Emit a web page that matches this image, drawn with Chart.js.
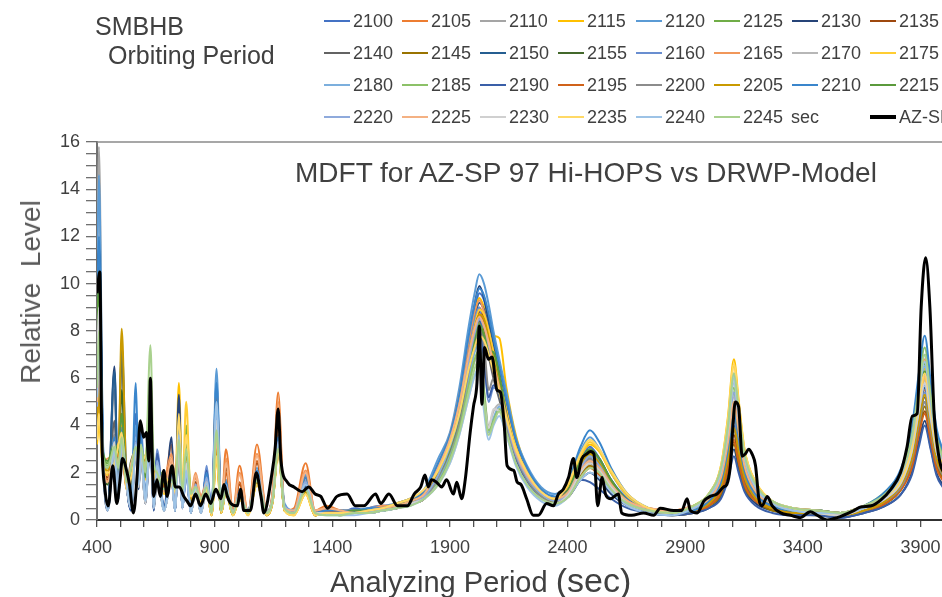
<!DOCTYPE html>
<html>
<head>
<meta charset="utf-8">
<script src="https://cdn.jsdelivr.net/npm/chart.js@4.4.1/dist/chart.umd.min.js"></script>
<style>
  html, body { margin: 0; padding: 0; background: #fff; overflow: hidden; }
  #wrap { position: relative; width: 942px; height: 597px; overflow: hidden;
          font-family: "Liberation Sans", Arial, sans-serif; color: #404040; }
  #chart { position: absolute; left: 0; top: 0; }
  .txt { position: absolute; white-space: pre; line-height: 1; }
  .leg { position: absolute; height: 20px; display: flex; align-items: center;
         font-size: 18px; line-height: 20px; white-space: nowrap; color: #404040; }
  .leg i { display: inline-block; width: 26px; margin-right: 3px; }
</style>
</head>
<body>
<div id="wrap">
  <canvas id="chart" width="944" height="597"></canvas>
  <div class="txt" style="left:95px; top:14px; font-size:25px;">SMBHB</div>
  <div class="txt" style="left:108px; top:43px; font-size:25px;">Orbiting Period</div>
  <div class="txt" style="left:295px; top:159px; font-size:28px;">MDFT for AZ-SP 97 Hi-HOPS vs DRWP-Model</div>
  <div class="txt" style="left:31px; top:292px; font-size:28px; color:#595959; transform:translate(-50%,-50%) rotate(-90deg);">Relative  Level</div>
  <div class="txt" style="left:330px; top:563px; font-size:29px;">Analyzing Period <span style="font-size:34px;">(sec)</span></div>
  <div id="legend"></div>
</div>
<script>
// analyzing period grid shared by the model curves (sec)
const periods = [400,408,425,445,474,490,505,525,545,565,577,587,605,627,641,655,685,717,732,748,763,779,799,819,842,866,887,908,928,948,978,1006,1042,1080,1122,1147,1170,1197,1237,1287,1327,
  1375,1434,1494,1554,1614,1673,1732,1791,
  1850,1900,1940,1980,2005,2025,2045,2065,2085,2110,2140,2180,2228,2287,2347,
  2405,2455,2495,2535,2585,2655,2745,2845,
  2935,3000,3052,3082,3107,3127,3152,3200,3270,3360,
  3460,3560,3660,3750,3818,3863,3893,3918,3943,3968,4000];

const seriesLabels = ['2100','2105','2110','2115','2120','2125','2130','2135',
  '2140','2145','2150','2155','2160','2165','2170','2175',
  '2180','2185','2190','2195','2200','2205','2210','2215',
  '2220','2225','2230','2235','2240','2245'];

const seriesColors = ['#4472C4','#ED7D31','#A5A5A5','#FFC000','#5B9BD5','#70AD47','#264478','#9E480E',
  '#636363','#997300','#255E91','#43682B','#698ED0','#F1975A','#B7B7B7','#FFCD33',
  '#7CAFDD','#8CC168','#3A5FA8','#D0621A','#8C8C8C','#C99A00','#3A86CC','#5B9A3C',
  '#8FAADC','#F4B183','#D0D0D0','#FFD966','#9DC3E6','#A9D18E'];

// relative level of each model curve
const lv2100 = [5.4,7.7,3.0,0.4,3.2,0.9,3.8,1.6,0.5,4.5,1.8,3.4,0.9,3.6,0.6,2.4,0.5,1.9,0.4,3.2,0.5,2.2,0.3,1.4,0.4,2.0,0.3,5.9,0.5,1.6,0.3,1.1,0.4,2.0,0.3,1.0,3.4,0.6,0.4,1.6,0.3,
  0.4,0.3,0.5,0.4,0.5,0.6,0.8,1.0,
  2.1,3.4,5.0,7.5,8.8,9.6,9.3,8.4,7.4,6.2,4.8,3.2,2.0,1.2,0.9,
  1.4,2.5,3.1,2.6,1.7,0.9,0.4,0.3,
  0.4,0.7,1.4,2.6,4.0,3.0,1.8,1.0,0.5,0.3,
  0.3,0.2,0.4,0.8,1.4,2.5,4.0,5.0,3.8,2.5,1.8];
const lv2105 = [4.5,6.3,2.4,2.0,2.6,2.4,3.2,1.3,1.8,3.0,2.6,2.8,2.2,3.4,1.8,2.0,1.5,3.2,1.2,2.6,1.4,2.0,1.0,1.8,0.9,1.6,0.3,3.5,0.4,3.0,0.4,2.3,0.3,3.2,0.3,1.3,5.4,0.4,0.5,2.4,0.4,
  0.6,0.4,0.3,0.5,0.6,0.5,0.7,1.1,
  2.4,3.6,5.2,7.4,8.4,9.0,8.6,7.8,6.8,5.8,4.5,3.0,1.9,1.1,0.8,
  1.1,2.1,2.6,2.3,1.5,0.8,0.5,0.4,
  0.6,0.8,1.3,2.3,3.4,2.6,1.6,0.9,0.6,0.4,
  0.4,0.3,0.6,1.0,1.7,2.9,4.5,5.5,4.2,2.8,2.0];
const lv2110 = [10.5,15.8,3.2,0.5,5.5,1.0,4.5,1.8,0.6,3.3,1.6,3.0,0.8,3.8,0.5,2.1,0.4,1.7,0.5,3.5,0.6,2.4,0.3,1.3,0.3,1.4,0.4,4.8,0.4,1.4,0.3,1.2,0.3,1.8,0.4,0.9,3.0,0.5,0.3,1.3,0.3,
  0.3,0.4,0.3,0.3,0.4,0.6,0.7,0.9,
  1.8,2.9,4.3,6.4,7.6,8.2,7.0,5.2,5.6,5.4,4.1,2.7,1.7,1.0,0.7,
  1.2,2.4,2.9,2.5,1.6,0.8,0.4,0.3,
  0.5,0.8,1.7,3.2,5.0,3.8,2.3,1.2,0.6,0.4,
  0.3,0.2,0.5,0.9,1.6,3.0,4.8,6.0,4.5,3.0,2.1];
const lv2115 = [3.2,4.0,2.2,1.6,2.4,2.8,4.0,1.4,1.4,2.8,3.0,2.6,1.8,3.2,2.4,1.8,1.2,1.5,1.0,5.8,1.3,2.8,0.9,1.2,0.7,1.3,0.2,2.6,0.3,1.2,0.2,0.9,0.2,1.5,0.2,0.8,2.8,0.4,0.2,1.1,0.2,
  0.3,0.2,0.3,0.4,0.5,0.7,0.9,1.2,
  2.3,3.6,5.1,7.4,8.8,9.4,9.0,8.3,7.8,7.7,5.6,3.6,2.2,1.3,0.9,
  1.5,2.7,3.2,2.9,2.0,1.0,0.5,0.3,
  0.6,1.1,2.3,4.4,6.8,5.1,3.0,1.6,0.8,0.5,
  0.3,0.3,0.5,1.0,1.8,3.2,5.1,6.4,4.8,3.2,2.3];
const lv2120 = [9.8,14.6,3.5,0.6,3.6,1.1,3.9,1.9,0.7,4.0,1.7,3.8,1.0,4.0,0.6,2.6,0.5,2.0,0.4,4.4,0.6,2.3,0.3,1.6,0.4,1.9,0.3,6.4,0.6,1.7,0.3,1.3,0.4,2.2,0.3,1.1,3.6,0.7,0.4,1.9,0.3,
  0.5,0.4,0.4,0.5,0.6,0.7,0.9,1.3,
  2.6,3.7,5.6,8.2,9.6,10.4,10.0,9.1,8.0,6.8,5.4,3.5,2.3,1.4,1.1,
  1.6,2.9,3.5,3.0,2.0,1.0,0.5,0.4,
  0.6,1.1,2.2,4.0,6.2,4.7,2.8,1.5,0.8,0.5,
  0.4,0.3,0.6,1.1,2.0,3.5,5.6,7.0,5.3,3.5,2.5];
const lv2125 = [7.5,10.8,2.8,2.4,2.9,2.0,3.6,1.5,2.2,3.1,2.2,3.0,2.6,4.5,1.5,2.0,1.8,1.6,1.3,3.4,1.1,4.0,1.2,1.3,0.8,1.5,0.3,4.2,0.4,1.3,0.2,1.0,0.3,1.7,0.3,0.9,3.1,0.5,0.3,1.3,0.3,
  0.3,0.3,0.4,0.4,0.5,0.6,0.8,1.0,
  1.9,3.0,4.5,6.7,7.9,8.6,8.0,7.1,7.0,6.0,4.4,2.9,1.8,1.1,0.8,
  1.3,2.3,2.8,2.4,1.6,0.8,0.4,0.3,
  0.6,1.0,1.9,3.5,5.4,4.1,2.5,1.3,0.7,0.5,
  0.4,0.3,0.6,1.1,1.9,3.3,5.3,6.6,5.0,3.3,2.4];
const lv2130 = [8.0,11.7,3.0,0.4,6.5,1.0,3.4,1.5,0.4,3.0,1.3,2.9,0.7,3.3,0.4,1.9,0.5,3.5,0.4,5.3,0.5,2.1,0.3,1.4,0.3,1.7,0.3,3.1,0.3,1.3,0.3,1.0,0.3,1.6,0.2,0.9,2.9,0.5,0.3,1.2,0.2,
  0.3,0.3,0.3,0.4,0.4,0.6,0.7,1.0,
  2.2,3.4,5.0,7.6,9.1,9.9,9.4,8.4,7.4,6.2,4.8,3.2,2.0,1.2,0.8,
  1.0,1.7,2.0,1.7,1.1,0.6,0.3,0.2,
  0.3,0.5,1.0,1.9,3.0,2.2,1.3,0.7,0.4,0.3,
  0.2,0.1,0.3,0.6,1.1,2.0,3.3,4.2,3.1,2.0,1.4];
const lv2135 = [4.4,6.0,2.6,1.8,3.0,3.0,3.3,1.4,1.6,2.9,2.8,2.7,2.0,3.4,2.0,2.1,1.4,2.3,1.1,3.0,1.5,2.2,1.1,1.6,1.0,1.5,0.3,3.4,0.4,2.2,0.3,1.5,0.3,2.4,0.3,1.1,4.0,0.5,0.4,1.8,0.3,
  0.4,0.3,0.3,0.4,0.5,0.6,0.8,1.0,
  2.0,3.2,4.6,6.9,8.1,8.8,8.5,7.7,6.8,5.7,4.4,2.9,1.9,1.1,0.8,
  1.1,2.0,2.5,2.2,1.4,0.7,0.4,0.3,
  0.4,0.7,1.3,2.4,3.6,2.7,1.6,0.9,0.5,0.3,
  0.3,0.2,0.4,0.7,1.3,2.3,3.7,4.6,3.5,2.3,1.7];
const lv2140 = [6.2,9.0,2.9,0.5,4.2,0.9,3.7,1.6,0.5,3.2,1.5,2.9,0.8,3.6,0.5,2.0,0.4,1.8,0.4,3.2,0.5,2.3,0.3,1.4,0.3,1.5,0.3,4.0,0.4,1.4,0.3,1.1,0.3,1.8,0.3,0.9,3.2,0.5,0.3,1.4,0.3,
  0.3,0.3,0.4,0.4,0.5,0.6,0.7,0.9,
  1.8,2.8,4.1,6.1,7.2,7.8,7.6,6.9,6.0,5.1,3.9,2.6,1.6,1.0,0.7,
  1.1,2.0,2.4,2.0,1.3,0.7,0.4,0.3,
  0.4,0.7,1.3,2.5,3.8,2.9,1.7,0.9,0.5,0.3,
  0.3,0.2,0.4,0.8,1.5,2.6,4.2,5.2,3.9,2.6,1.9];
const lv2145 = [4.0,5.5,2.3,2.2,2.5,2.6,7.0,1.7,2.0,2.8,2.4,2.6,2.4,3.2,1.7,1.8,1.6,1.6,1.2,2.9,1.3,2.1,0.8,1.3,0.8,1.4,0.2,3.0,0.3,1.3,0.2,1.0,0.3,1.6,0.2,0.8,3.0,0.4,0.3,1.2,0.2,
  0.3,0.2,0.3,0.3,0.4,0.5,0.7,0.9,
  1.9,3.0,4.4,6.6,7.8,8.4,8.1,7.4,6.5,5.5,4.2,2.8,1.8,1.1,0.7,
  1.0,1.9,2.3,2.0,1.3,0.7,0.4,0.2,
  0.3,0.6,1.1,2.1,3.2,2.4,1.4,0.8,0.4,0.3,
  0.2,0.2,0.4,0.7,1.3,2.4,3.8,4.8,3.6,2.4,1.7];
const lv2150 = [8.2,11.5,3.1,0.5,6.3,1.1,7.4,1.8,0.5,3.4,1.5,3.2,0.8,3.7,0.5,2.3,0.5,2.0,0.4,3.6,0.6,2.4,0.3,1.5,0.3,1.8,0.3,4.5,0.4,1.5,0.3,1.2,0.3,1.9,0.3,1.0,3.3,0.5,0.4,1.5,0.3,
  0.4,0.3,0.4,0.4,0.5,0.6,0.8,1.1,
  2.1,3.3,4.9,7.2,8.5,9.2,8.9,8.2,7.3,6.1,4.7,3.1,2.0,1.2,0.9,
  1.3,2.5,3.0,2.6,1.7,0.8,0.4,0.3,
  0.4,0.8,1.5,2.8,4.4,3.3,2.0,1.1,0.6,0.4,
  0.3,0.2,0.4,0.8,1.6,2.8,4.5,5.6,4.2,2.8,2.0];
const lv2155 = [7.0,10.0,2.7,1.5,3.1,2.2,5.5,1.5,2.5,3.0,2.7,2.8,1.9,3.9,2.2,2.0,1.3,1.7,1.2,3.3,1.4,3.0,1.0,1.4,0.9,1.4,0.3,5.2,0.4,1.3,0.2,1.1,0.3,1.7,0.3,0.9,3.1,0.4,0.3,1.3,0.2,
  0.3,0.3,0.3,0.4,0.5,0.6,0.8,1.0,
  1.8,2.9,4.2,6.2,7.3,8.0,7.4,7.0,7.2,6.2,4.4,2.8,1.8,1.1,0.8,
  1.2,2.2,2.7,2.3,1.5,0.8,0.4,0.3,
  0.5,0.8,1.6,3.0,4.6,3.5,2.1,1.1,0.6,0.4,
  0.4,0.3,0.5,1.0,1.8,3.1,5.0,6.2,4.7,3.1,2.2];
const lv2160 = [5.0,7.0,2.6,0.4,2.8,0.8,3.4,1.5,0.5,3.6,1.6,4.0,0.9,3.3,0.5,3.0,0.5,1.8,0.4,3.1,0.5,2.0,0.3,1.5,0.3,2.3,0.3,4.3,0.5,1.5,0.3,1.2,0.3,1.9,0.3,1.0,3.3,0.6,0.4,1.7,0.3,
  0.4,0.4,0.3,0.5,0.6,0.6,0.8,1.2,
  2.2,3.4,5.0,7.2,8.5,9.0,7.0,5.0,5.6,5.5,4.4,3.0,1.9,1.2,0.9,
  1.3,2.4,2.9,2.5,1.6,0.8,0.4,0.3,
  0.4,0.7,1.5,2.7,4.2,3.2,1.9,1.0,0.5,0.3,
  0.3,0.2,0.4,0.8,1.5,2.7,4.3,5.4,4.1,2.7,1.9];
const lv2165 = [4.6,6.5,2.5,2.6,2.7,2.5,3.3,1.4,1.7,2.9,2.3,2.7,2.6,3.5,1.9,2.1,1.7,2.8,1.3,2.8,1.2,2.1,1.1,2.0,1.0,1.6,0.3,3.3,0.4,2.6,0.3,2.0,0.3,2.8,0.3,1.2,5.0,0.5,0.4,2.1,0.4,
  0.5,0.4,0.4,0.4,0.6,0.6,0.8,1.1,
  2.3,3.6,5.3,7.6,8.8,9.3,8.8,8.0,7.1,6.0,4.7,3.1,2.0,1.2,0.9,
  1.2,2.1,2.6,2.3,1.6,0.8,0.5,0.4,
  0.6,0.9,1.7,3.1,4.8,3.6,2.2,1.2,0.7,0.5,
  0.4,0.3,0.6,1.1,2.0,3.4,5.4,6.8,5.1,3.4,2.5];
const lv2170 = [5.6,8.0,2.7,0.4,3.4,0.9,3.6,1.6,0.5,3.1,1.4,2.9,0.8,3.7,0.5,2.0,0.4,1.7,0.4,3.3,0.5,2.4,0.3,1.3,0.3,1.4,0.3,4.5,0.4,1.4,0.3,1.1,0.3,1.8,0.3,0.9,3.1,0.5,0.3,1.3,0.3,
  0.3,0.3,0.3,0.4,0.5,0.6,0.7,1.0,
  1.7,2.7,4.0,5.7,6.7,7.0,5.4,4.0,4.6,4.9,3.8,2.5,1.6,1.0,0.7,
  1.1,2.0,2.5,2.2,1.4,0.7,0.4,0.3,
  0.5,0.9,1.8,3.4,5.2,3.9,2.3,1.2,0.7,0.4,
  0.3,0.2,0.5,0.9,1.7,3.0,4.7,5.9,4.4,3.0,2.1];
const lv2175 = [3.7,5.0,2.3,1.9,2.5,3.2,3.5,1.3,2.1,2.7,2.9,2.5,1.7,3.3,2.3,1.7,1.1,1.5,1.0,3.8,1.2,5.0,0.9,1.2,0.7,1.3,0.2,2.8,0.3,1.2,0.2,0.9,0.2,1.5,0.2,0.8,2.9,0.4,0.2,1.1,0.2,
  0.3,0.3,0.3,0.4,0.5,0.7,0.9,1.2,
  2.2,3.4,4.9,7.0,8.2,8.9,8.7,8.0,7.1,6.0,4.6,3.1,2.0,1.2,0.9,
  1.5,2.7,3.3,2.9,2.0,1.0,0.5,0.3,
  0.6,1.1,2.2,4.2,6.5,4.9,2.9,1.6,0.8,0.5,
  0.3,0.2,0.5,0.9,1.7,3.0,4.8,6.0,4.5,3.0,2.2];
const lv2180 = [6.0,8.5,2.9,0.5,3.2,0.9,3.5,1.7,0.6,3.5,1.6,3.4,0.9,3.8,0.5,2.4,0.4,1.8,0.4,4.1,0.6,2.2,0.3,1.5,0.3,1.7,0.3,5.6,0.5,1.5,0.3,1.2,0.3,2.0,0.3,1.0,3.4,0.6,0.4,1.7,0.3,
  0.4,0.3,0.3,0.3,0.4,0.5,0.7,1.0,
  1.7,2.8,4.1,6.0,7.1,7.5,5.2,3.7,4.3,4.8,3.9,2.6,1.6,1.0,0.7,
  1.2,2.1,2.6,2.3,1.5,0.7,0.4,0.3,
  0.5,1.0,2.0,3.8,5.8,4.4,2.6,1.4,0.7,0.4,
  0.3,0.3,0.5,1.0,1.8,3.3,5.2,6.5,4.9,3.3,2.3];
const lv2185 = [6.6,9.5,2.8,2.3,3.3,2.1,3.8,1.6,1.9,3.2,2.5,3.1,2.3,6.0,1.6,2.1,1.9,1.7,1.4,3.5,1.3,3.4,1.2,1.4,0.8,1.4,0.3,4.0,0.4,1.3,0.3,1.0,0.3,1.7,0.3,0.9,3.1,0.5,0.3,1.3,0.3,
  0.3,0.2,0.3,0.4,0.4,0.5,0.7,1.0,
  1.6,2.6,3.9,5.7,6.8,7.2,5.5,3.8,4.2,4.7,3.8,2.5,1.6,1.0,0.7,
  1.2,2.3,2.8,2.4,1.6,0.8,0.4,0.3,
  0.6,1.0,2.0,3.7,5.6,4.2,2.5,1.4,0.7,0.5,
  0.4,0.3,0.6,1.2,2.1,3.7,5.9,7.3,5.5,3.7,2.7];
const lv2190 = [5.3,7.5,2.6,0.4,3.0,0.8,3.3,1.5,0.4,3.3,1.4,3.0,0.7,3.2,0.4,2.8,0.5,2.2,0.4,3.0,0.5,2.0,0.3,1.4,0.3,2.1,0.3,3.6,0.4,1.4,0.3,1.1,0.3,1.7,0.3,0.9,3.0,0.5,0.3,1.4,0.3,
  0.3,0.3,0.3,0.3,0.4,0.5,0.7,1.0,
  1.9,3.0,4.5,6.7,8.0,8.5,6.8,5.2,5.7,5.3,4.0,2.6,1.6,1.0,0.8,
  1.3,1.7,1.6,1.3,0.9,0.5,0.3,0.2,
  0.3,0.5,0.9,1.7,2.7,2.0,1.2,0.6,0.3,0.2,
  0.2,0.1,0.3,0.6,1.1,1.9,3.1,4.0,3.0,1.9,1.3];
const lv2195 = [4.3,6.0,2.5,1.7,2.8,2.7,3.4,1.4,2.3,3.0,2.1,2.7,2.1,3.4,2.1,2.0,1.4,2.6,1.1,2.9,1.4,2.1,1.0,1.5,0.9,1.5,0.2,5.5,0.4,2.0,0.3,1.6,0.3,2.5,0.3,1.1,4.2,0.4,0.3,1.8,0.3,
  0.4,0.3,0.3,0.4,0.5,0.5,0.7,1.0,
  2.1,3.3,4.8,7.0,8.1,8.7,8.4,7.6,6.7,5.6,4.4,2.9,1.9,1.1,0.8,
  1.0,1.8,2.2,1.9,1.3,0.7,0.4,0.3,
  0.4,0.6,1.2,2.2,3.3,2.5,1.5,0.8,0.5,0.3,
  0.3,0.2,0.4,0.7,1.3,2.2,3.6,4.5,3.4,2.2,1.6];
const lv2200 = [5.5,8.0,2.8,0.4,3.6,0.9,3.9,1.5,0.5,3.1,1.4,2.8,0.7,3.5,0.5,2.0,0.4,1.7,0.4,3.1,0.5,2.3,0.3,1.3,0.3,1.4,0.3,4.4,0.4,1.4,0.3,1.1,0.3,1.8,0.3,0.9,3.1,0.5,0.3,1.3,0.3,
  0.3,0.3,0.4,0.4,0.5,0.6,0.7,0.9,
  1.8,2.9,4.2,6.3,7.5,8.1,7.4,5.5,6.0,5.4,4.0,2.7,1.7,1.0,0.7,
  1.1,2.1,2.6,2.2,1.4,0.7,0.4,0.3,
  0.5,0.8,1.6,2.9,4.5,3.4,2.0,1.1,0.6,0.4,
  0.3,0.2,0.4,0.8,1.4,2.5,4.0,5.0,3.8,2.5,1.8];
const lv2205 = [4.0,5.5,2.4,2.1,2.7,2.3,8.1,1.9,1.5,2.9,2.6,2.7,2.5,3.3,1.8,1.9,1.5,1.6,1.2,3.0,1.3,2.2,0.9,1.3,0.8,1.4,0.2,3.1,0.3,1.3,0.2,1.0,0.3,1.6,0.2,0.8,3.0,0.4,0.3,1.2,0.2,
  0.3,0.3,0.3,0.4,0.5,0.6,0.8,1.1,
  2.0,3.2,4.7,6.9,8.1,8.7,8.5,7.7,6.8,5.7,4.4,2.9,1.9,1.1,0.8,
  1.3,2.3,2.8,2.4,1.6,0.8,0.4,0.3,
  0.4,0.7,1.4,2.6,3.9,2.9,1.8,0.9,0.5,0.3,
  0.3,0.2,0.4,0.8,1.5,2.6,4.2,5.3,4.0,2.6,1.9];
const lv2210 = [8.5,12.0,3.3,0.5,3.5,1.0,3.8,1.8,0.6,5.8,1.9,3.6,0.9,3.9,0.6,2.5,0.5,1.9,0.4,3.8,0.6,2.3,0.3,1.5,0.4,2.0,0.3,5.8,0.5,1.6,0.3,1.2,0.4,2.1,0.3,1.0,3.5,0.6,0.4,1.8,0.3,
  0.4,0.4,0.4,0.5,0.5,0.7,0.9,1.2,
  2.4,3.6,5.3,7.8,9.1,9.8,9.5,8.7,7.7,6.5,5.1,3.4,2.2,1.3,1.0,
  1.7,3.1,3.8,3.3,2.2,1.1,0.5,0.3,
  0.4,0.8,1.6,3.0,4.6,3.5,2.1,1.1,0.6,0.4,
  0.4,0.3,0.6,1.2,2.2,3.9,6.2,7.8,5.9,3.9,2.8];
const lv2215 = [7.3,10.5,2.9,2.5,3.2,2.9,4.5,1.6,2.0,3.2,2.2,3.0,1.8,4.0,2.4,2.1,1.6,1.7,1.3,3.3,1.2,3.2,1.1,1.4,0.9,1.5,0.3,4.3,0.4,1.3,0.3,1.1,0.3,1.7,0.3,0.9,3.2,0.5,0.3,1.3,0.3,
  0.3,0.3,0.4,0.4,0.5,0.6,0.8,1.0,
  1.9,3.0,4.4,6.5,7.6,8.3,7.8,7.2,7.1,6.1,4.5,2.9,1.8,1.1,0.8,
  1.3,2.5,3.0,2.6,1.7,0.8,0.4,0.3,
  0.5,0.9,1.8,3.3,5.0,3.8,2.3,1.2,0.7,0.4,
  0.4,0.3,0.5,1.0,1.8,3.2,5.0,6.3,4.7,3.2,2.3];
const lv2220 = [4.8,6.8,2.6,0.4,2.9,0.8,3.3,1.5,0.5,3.3,1.5,3.2,0.8,3.4,0.5,2.5,0.4,1.8,0.4,3.4,0.5,2.1,0.3,1.5,0.3,1.8,0.3,4.6,0.4,1.5,0.3,1.1,0.3,1.9,0.3,1.0,3.3,0.6,0.4,1.6,0.3,
  0.3,0.2,0.3,0.3,0.4,0.5,0.7,1.0,
  1.9,3.1,4.5,6.7,7.9,8.5,8.2,7.4,6.5,5.5,4.2,2.8,1.8,1.1,0.8,
  1.2,2.2,2.7,2.3,1.5,0.8,0.4,0.3,
  0.5,0.9,1.9,3.5,5.4,4.1,2.4,1.3,0.7,0.4,
  0.3,0.2,0.5,0.9,1.6,2.9,4.6,5.7,4.3,2.9,2.1];
const lv2225 = [5.0,7.0,2.6,1.6,2.8,2.4,3.3,1.4,2.4,3.0,2.8,2.8,2.2,3.5,1.7,2.1,1.2,2.6,1.1,2.9,1.3,2.1,1.0,1.9,0.9,1.6,0.3,3.4,0.4,2.4,0.3,1.9,0.3,2.7,0.3,1.2,4.6,0.5,0.4,2.0,0.4,
  0.5,0.4,0.3,0.4,0.5,0.6,0.8,1.1,
  2.2,3.4,4.9,7.0,8.1,8.6,8.2,7.5,6.6,5.6,4.4,2.9,1.9,1.2,0.9,
  1.2,2.1,2.5,2.2,1.5,0.8,0.5,0.4,
  0.6,0.9,1.8,3.3,5.0,3.8,2.3,1.2,0.7,0.5,
  0.4,0.3,0.6,1.0,1.8,3.1,4.9,6.1,4.6,3.1,2.3];
const lv2230 = [6.3,9.0,2.8,0.4,3.3,0.8,3.6,1.5,0.5,3.0,1.4,2.9,0.7,3.6,0.5,2.0,0.4,1.7,0.4,3.2,0.5,2.4,0.3,1.3,0.3,1.4,0.3,4.2,0.4,1.3,0.3,1.0,0.3,1.7,0.3,0.9,3.0,0.5,0.3,1.3,0.3,
  0.3,0.2,0.3,0.3,0.4,0.5,0.7,0.9,
  1.5,2.4,3.6,5.2,6.1,6.5,5.0,3.9,4.7,4.6,3.6,2.4,1.5,0.9,0.7,
  1.1,2.0,2.4,2.1,1.4,0.7,0.4,0.3,
  0.6,1.0,2.1,3.8,5.9,4.4,2.7,1.4,0.8,0.5,
  0.3,0.2,0.5,0.9,1.6,2.9,4.6,5.8,4.4,2.9,2.1];
const lv2235 = [3.4,4.5,2.2,2.0,2.4,3.1,3.7,1.3,1.8,2.7,2.4,2.5,2.7,3.3,2.0,1.7,1.8,1.5,1.2,4.5,1.4,3.6,1.0,1.2,0.8,1.3,0.2,2.7,0.3,1.2,0.2,0.9,0.2,1.5,0.2,0.8,2.8,0.4,0.2,1.1,0.2,
  0.3,0.3,0.3,0.4,0.5,0.7,0.9,1.3,
  2.1,3.2,4.5,6.4,7.3,7.8,7.6,7.0,6.3,5.4,4.3,3.0,2.0,1.2,0.9,
  1.6,2.8,3.4,3.0,2.1,1.1,0.5,0.3,
  0.6,1.1,2.3,4.3,6.6,5.0,3.0,1.6,0.8,0.5,
  0.3,0.3,0.5,1.0,1.7,3.1,5.0,6.2,4.7,3.1,2.3];
const lv2240 = [5.2,7.5,2.7,0.4,3.0,0.8,3.3,1.6,0.5,3.2,1.5,3.1,0.8,3.6,0.5,2.3,0.4,1.8,0.4,3.6,0.5,2.1,0.3,1.4,0.3,1.6,0.3,5.0,0.4,1.4,0.3,1.1,0.3,1.9,0.3,0.9,3.2,0.5,0.3,1.5,0.3,
  0.2,0.2,0.2,0.3,0.4,0.5,0.6,0.9,
  1.5,2.4,3.6,5.2,6.1,6.5,4.6,3.4,4.0,4.4,3.6,2.3,1.4,0.8,0.6,
  1.0,1.7,2.0,1.8,1.2,0.6,0.3,0.2,
  0.5,1.0,2.1,3.9,6.0,4.5,2.7,1.4,0.7,0.4,
  0.3,0.3,0.5,1.0,1.9,3.4,5.4,6.7,5.0,3.4,2.4];
const lv2245 = [5.6,8.0,2.7,2.2,3.1,2.2,3.5,1.6,2.2,3.1,2.6,3.2,2.0,7.4,2.5,2.0,1.3,1.7,1.3,3.4,1.2,3.0,1.1,1.4,0.9,1.4,0.3,3.8,0.4,1.3,0.3,1.0,0.3,1.7,0.3,0.9,3.0,0.5,0.3,1.3,0.3,
  0.2,0.2,0.3,0.3,0.4,0.5,0.6,0.9,
  1.5,2.5,3.7,5.4,6.4,6.8,5.0,3.6,4.1,4.6,3.7,2.4,1.5,0.9,0.7,
  1.0,1.8,2.2,2.0,1.3,0.7,0.4,0.3,
  0.6,1.1,2.2,4.0,6.2,4.7,2.8,1.5,0.8,0.5,
  0.4,0.3,0.6,1.1,2.0,3.5,5.6,7.0,5.3,3.5,2.5];

const modelSeries = [lv2100, lv2105, lv2110, lv2115, lv2120, lv2125, lv2130, lv2135,
  lv2140, lv2145, lv2150, lv2155, lv2160, lv2165, lv2170, lv2175,
  lv2180, lv2185, lv2190, lv2195, lv2200, lv2205, lv2210, lv2215,
  lv2220, lv2225, lv2230, lv2235, lv2240, lv2245];

// observed AZ-SP 97 curve
const azspPeriods = [400,412,420,434,448,467,484,498,508,528,538,555,570,584,598,610,620,627,634,641,655,669,684,698,719,733,750,769,783,798,819,840,862,883,905,926,940,954,969,997,
  1010,1024,1052,1077,1097,1109,1144,1157,1170,1182,1209,1237,1272,1300,1327,1351,1380,
  1420,1463,1498,1534,1584,1606,1641,1677,1719,1748,1776,
  1794,1808,1822,1843,1865,1886,1915,1929,1950,1965,1986,2000,2015,2025,2036,2047,2064,2079,2100,2115,2131,2143,2171,2186,
  2202,2226,2254,2276,2311,2340,2361,2382,2404,2425,2439,2461,2482,2497,2512,2528,2547,2561,2582,
  2616,2630,2673,2723,2766,2794,2851,2885,2908,2922,2951,2979,
  3006,3035,3063,3077,3092,3103,3113,3127,3142,3156,3170,3184,3199,3213,3227,3249,3270,3306,3348,
  3389,3432,3461,3503,3546,3617,3646,3691,3732,3774,
  3815,3843,3865,3886,3903,3922,3940,3958,3972,3986,4000];
const azspLevels = [9.6,10.5,3.8,1.3,0.6,2.3,0.7,1.7,2.6,2.0,1.5,0.3,1.8,4.2,3.5,3.7,2.5,6.0,3.0,1.0,1.7,1.0,2.1,1.0,2.3,1.4,1.4,1.0,0.8,0.6,1.1,0.6,1.1,0.7,1.3,0.9,1.5,1.0,0.7,0.6,
  1.3,0.4,0.4,2.0,1.0,0.3,2.0,3.0,4.7,2.5,1.6,1.4,1.2,1.4,1.1,1.0,0.5,
  1.0,1.1,0.6,0.6,1.1,0.7,1.1,0.6,0.6,1.1,1.4,
  1.9,1.4,1.7,1.6,1.4,1.7,1.1,1.6,0.9,1.7,3.7,4.8,5.8,8.2,4.9,7.3,6.8,6.9,5.5,5.4,4.0,2.3,2.1,1.6,
  1.5,0.9,0.2,0.2,0.7,0.6,1.1,1.3,1.8,2.6,1.8,2.6,2.8,2.9,2.8,0.6,1.8,1.1,0.9,
  1.1,0.3,0.2,0.3,0.2,0.5,0.4,0.4,0.9,0.4,0.3,0.8,
  1.0,1.1,1.4,1.5,2.3,4.0,5.0,4.8,2.7,2.8,3.0,2.8,2.3,0.9,0.6,1.0,0.6,0.3,0.2,
  0.1,0.35,0.2,0.0,0.1,0.4,0.55,0.6,0.85,1.3,
  2.0,3.1,4.4,4.5,9.0,11.1,9.0,4.5,3.1,2.3,2.0];

const xTickLabels = [400, 900, 1400, 1900, 2400, 2900, 3400, 3900];
const yTickLabels = [0, 2, 4, 6, 8, 10, 12, 14, 16];

const FONT = '"Liberation Sans", Arial, sans-serif';
const TEXT = '#404040';

const datasets = modelSeries.map((vals, i) => ({
  label: seriesLabels[i],
  data: vals.map((v, k) => ({ x: periods[k], y: v })),
  borderColor: seriesColors[i],
  backgroundColor: seriesColors[i],
  borderWidth: 2,
  pointRadius: 0,
  fill: false,
  cubicInterpolationMode: 'monotone',
  order: modelSeries.length - i
}));
datasets.push({
  label: 'AZ-SP',
  data: azspLevels.map((v, k) => ({ x: azspPeriods[k], y: v })),
  borderColor: '#000000',
  backgroundColor: '#000000',
  borderWidth: 3,
  pointRadius: 0,
  fill: false,
  cubicInterpolationMode: 'monotone',
  order: 0
});

const topBorder = {
  id: 'topBorder',
  afterDraw(chart) {
    const { ctx, chartArea } = chart;
    ctx.save();
    ctx.strokeStyle = '#8a8a8a';
    ctx.lineWidth = 1.5;
    ctx.beginPath();
    ctx.moveTo(chartArea.left, chartArea.top);
    ctx.lineTo(chartArea.right, chartArea.top);
    ctx.stroke();
    ctx.restore();
  }
};

new Chart(document.getElementById('chart'), {
  type: 'line',
  data: { datasets },
  options: {
    responsive: false,
    animation: false,
    devicePixelRatio: 1,
    layout: { padding: { top: 142, left: 0, right: 0, bottom: 0 } },
    plugins: {
      legend: { display: false },
      tooltip: { enabled: false },
      title: { display: false }
    },
    scales: {
      x: {
        type: 'linear',
        min: 400,
        max: 4000,
        afterFit(scale) { scale.height = 77; scale.paddingRight = 0; scale.paddingLeft = 0; },
        grid: { drawOnChartArea: false, drawTicks: true, tickLength: 7, color: '#505050', lineWidth: 1.3 },
        border: { display: true, color: '#303030', width: 2 },
        ticks: {
          stepSize: 100,
          autoSkip: false,
          maxRotation: 0,
          padding: 10,
          color: TEXT,
          font: { size: 18, family: FONT },
          callback: v => xTickLabels.includes(v) ? String(v) : ''
        }
      },
      y: {
        min: 0,
        max: 16,
        afterFit(scale) { scale.width = 97; },
        grid: { drawOnChartArea: false, drawTicks: true, tickLength: 11, color: '#707070', lineWidth: 1.3 },
        border: { display: true, color: '#707070', width: 2 },
        ticks: {
          stepSize: 0.5,
          autoSkip: false,
          padding: 6,
          color: TEXT,
          font: { size: 18, family: FONT },
          callback: v => yTickLabels.includes(v) ? String(v) : ''
        }
      }
    }
  },
  plugins: [topBorder]
});

// legend laid out in an 8-column grid like the original
const legendEl = document.getElementById('legend');
function addLegendItem(text, color, left, top, thick) {
  const d = document.createElement('div');
  d.className = 'leg';
  d.style.left = left + 'px';
  d.style.top = top + 'px';
  const line = document.createElement('i');
  line.style.height = thick + 'px';
  line.style.background = color;
  d.appendChild(line);
  d.appendChild(document.createTextNode(text));
  legendEl.appendChild(d);
  return d;
}
const rowTops = [11, 43, 75, 107];
seriesLabels.forEach((lab, i) => {
  const item = addLegendItem(lab, seriesColors[i], 324 + (i % 8) * 78, rowTops[Math.floor(i / 8)], 2.5);
  if (i === seriesLabels.length - 1) {
    const s = document.createElement('span');
    s.style.marginLeft = '8px';
    s.textContent = 'sec';
    item.appendChild(s);
  }
});
addLegendItem('AZ-SP', '#000000', 324 + 7 * 78, rowTops[3], 3.5);
</script>
</body>
</html>
